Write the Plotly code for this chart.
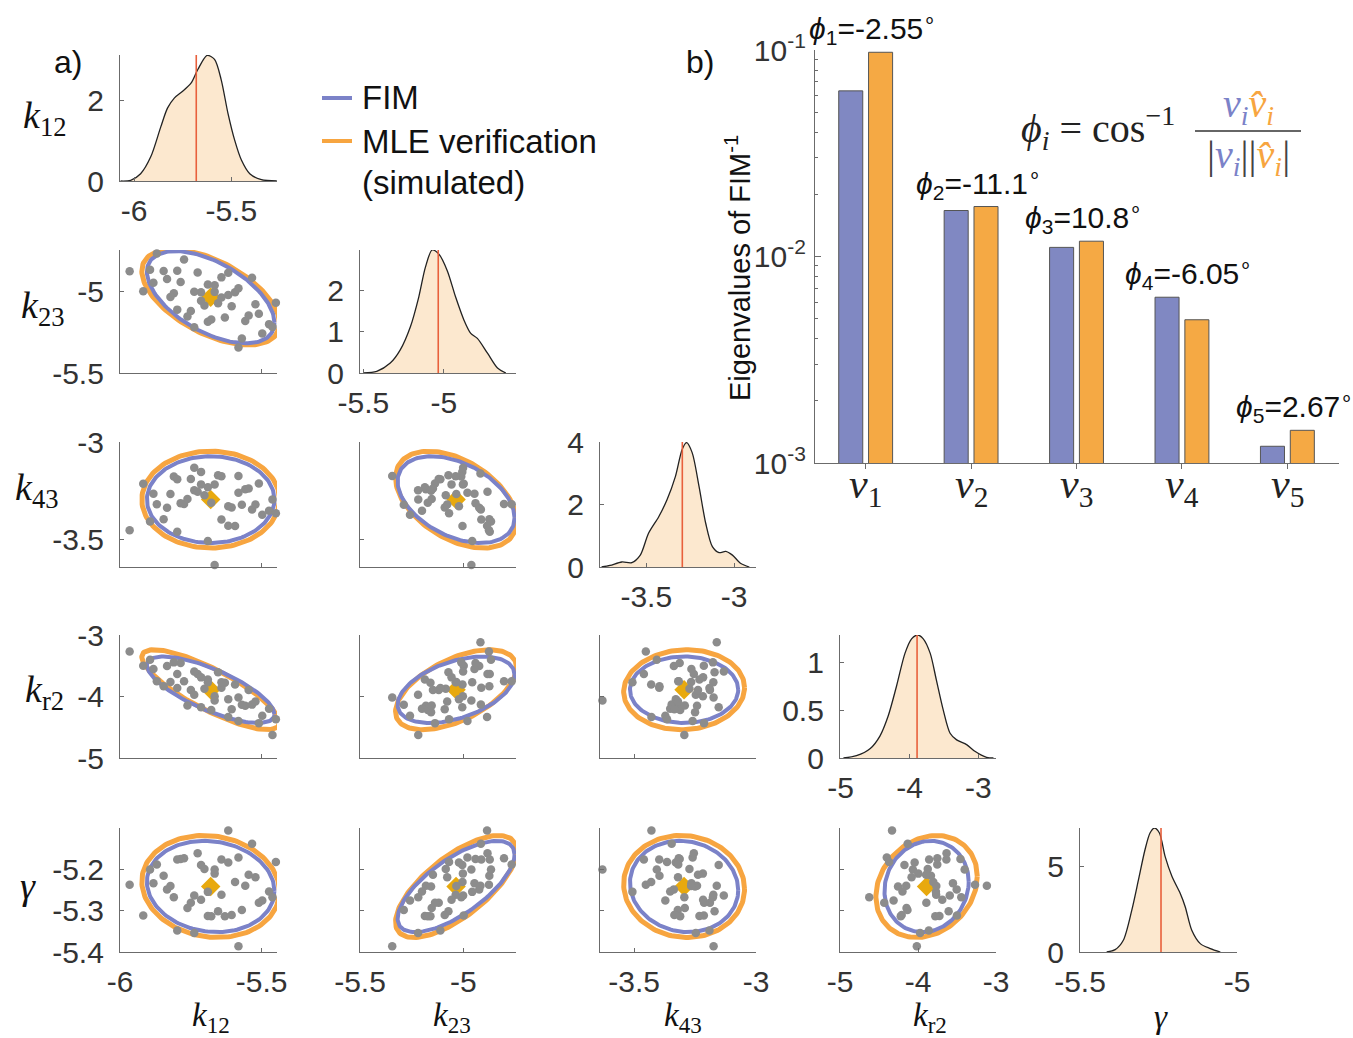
import numpy as np
import plotly.graph_objects as go

W, H = 1353, 1038

# ---------------- data ----------------
param_labels = ["<i>k</i><sub>12</sub>", "<i>k</i><sub>23</sub>", "<i>k</i><sub>43</sub>",
                "<i>k</i><sub>r2</sub>", "<i>γ</i>"]
true_vals = [-5.68, -5.035, -3.295, -3.89, -5.242]

samp_k12 = [-5.666, -5.834, -5.558, -5.75, -5.594, -5.882, -5.642, -5.51, -5.798, -5.69, -5.714, -5.474,
            -5.918, -5.618, -5.774, -5.57, -5.654, -5.846, -5.702, -5.426, -5.738, -5.582, -5.966, -5.63,
            -5.786, -5.534, -5.678, -5.81, -5.606, -5.726, -5.498, -5.87, -5.69, -5.546, -5.762, -5.642,
            -5.822, -5.45, -5.714, -5.582, -5.894, -5.618, -5.738, -5.522, -5.798, -5.666, -6.002, -5.462]
samp_k23 = [-5.002, -4.923, -5.181, -5.119, -5.004, -4.946, -4.913, -5.137, -4.872, -5.186, -5.005, -5.2,
            -4.998, -5.021, -4.803, -5.288, -5.072, -4.874, -5.085, -5.156, -5.219, -4.98, -4.876, -5.159,
            -4.941, -4.915, -5.172, -5.01, -5.09, -4.883, -5.258, -4.766, -4.957, -5.147, -5.153, -5.037,
            -5.034, -5.069, -5.057, -5.344, -4.866, -4.885, -5.001, -5.078, -5.111, -4.961, -4.917, -5.218]
samp_k43 = [-3.218, -3.337, -3.242, -3.189, -3.43, -3.265, -3.397, -3.213, -3.46, -3.232, -3.153, -3.352,
            -3.214, -3.329, -3.317, -3.321, -3.17, -3.396, -3.273, -3.25, -3.247, -3.26, -3.452, -2.98,
            -3.313, -3.346, -3.311, -3.177, -3.335, -3.255, -3.372, -3.319, -3.507, -3.238, -3.292, -3.175,
            -3.266, -3.365, -3.217, -3.174, -3.407, -3.429, -3.132, -3.32, -3.191, -3.63, -3.161, -3.294]
samp_kr2 = [-3.996, -3.504, -4.151, -3.893, -3.804, -3.552, -3.857, -4.433, -3.636, -3.725, -4.174, -4.199,
            -3.501, -4.043, -3.752, -4.135, -3.607, -3.834, -3.875, -4.256, -3.973, -4.4, -3.269, -3.778,
            -3.456, -4.132, -4.221, -3.445, -4.209, -3.634, -4.313, -3.753, -3.77, -3.896, -4.147, -3.767,
            -3.765, -4.37, -3.689, -4.015, -3.402, -4.333, -3.593, -4.082, -3.861, -4.066, -3.117, -4.625]
samp_gamma = [-5.211, -5.249, -5.24, -5.281, -5.231, -5.234, -5.177, -5.281, -5.177, -5.313, -5.19, -5.254,
              -5.312, -5.184, -5.174, -5.299, -5.302, -5.216, -5.2, -5.242, -5.354, -5.172, -5.238, -5.314,
              -5.176, -5.139, -5.314, -5.268, -5.311, -5.162, -5.276, -5.189, -5.255, -5.214, -5.294, -5.262,
              -5.241, -5.183, -5.274, -5.386, -5.201, -5.107, -5.264, -5.22, -5.348, -5.201, -5.24, -5.268]
samples = [samp_k12, samp_k23, samp_k43, samp_kr2, samp_gamma]

# confidence-ellipse half extents and correlations (FIM vs MLE)
fim_extent = [0.225, 0.283, 0.222, 0.54, 0.110]
mle_extent = [0.243, 0.293, 0.248, 0.65, 0.123]
pairs = [(1, 0), (2, 0), (2, 1), (3, 0), (3, 1), (3, 2), (4, 0), (4, 1), (4, 2), (4, 3)]
fim_rho = [-0.55, 0.0, -0.42, -0.74, 0.45, 0.0, -0.10, 0.70, -0.08, 0.10]
mle_rho = [-0.55, 0.0, -0.45, -0.82, 0.55, 0.05, -0.10, 0.70, -0.05, 0.20]

# marginal densities
kde_k12_x = [-6.069, -6.017, -5.966, -5.914, -5.862, -5.828, -5.793, -5.75, -5.707, -5.672, -5.624, -5.586,
             -5.552, -5.517, -5.483, -5.448, -5.405, -5.345, -5.266]
kde_k12_y = [0, 0.017, 0.18, 0.6, 1.35, 1.81, 2.06, 2.23, 2.43, 2.77, 3.12, 3.02, 2.52, 1.68, 1.02, 0.52,
             0.18, 0.033, 0]
kde_k23_x = [-5.5, -5.417, -5.333, -5.271, -5.208, -5.156, -5.115, -5.073, -5.031, -4.979, -4.927, -4.875,
             -4.833, -4.792, -4.729, -4.667, -4.615]
kde_k23_y = [0, 0.04, 0.24, 0.56, 1.12, 1.84, 2.56, 2.98, 2.88, 2.48, 1.84, 1.28, 0.96, 0.84, 0.48, 0.12, 0]
kde_k43_x = [-3.754, -3.706, -3.639, -3.582, -3.534, -3.487, -3.429, -3.382, -3.334, -3.296, -3.271, -3.239,
             -3.2, -3.162, -3.124, -3.086, -3.048, -3.01, -2.962, -2.914]
kde_k43_y = [0, 0.05, 0.16, 0.14, 0.38, 1.08, 1.61, 2.15, 2.9, 3.76, 3.98, 3.66, 2.58, 1.4, 0.65, 0.46, 0.5,
             0.38, 0.11, 0]
kde_kr2_x = [-4.96, -4.77, -4.57, -4.43, -4.31, -4.19, -4.065, -3.97, -3.88, -3.80, -3.70, -3.61, -3.51,
             -3.41, -3.315, -3.17, -3.05, -2.88, -2.78]
kde_kr2_y = [0, 0.024, 0.1, 0.23, 0.44, 0.75, 1.10, 1.25, 1.29, 1.25, 1.10, 0.82, 0.505, 0.26, 0.19, 0.14,
             0.07, 0.007, 0]
kde_gamma_x = [-5.415, -5.388, -5.362, -5.335, -5.314, -5.293, -5.277, -5.263, -5.247, -5.229, -5.207,
               -5.181, -5.165, -5.144, -5.117, -5.085, -5.053]
kde_gamma_y = [0, 0.14, 0.69, 2.45, 4.2, 5.98, 6.96, 7.25, 6.96, 5.59, 4.41, 3.43, 2.65, 1.27, 0.49, 0.2, 0]
kde_x = [kde_k12_x, kde_k23_x, kde_k43_x, kde_kr2_x, kde_gamma_x]
kde_y = [kde_k12_y, kde_k23_y, kde_k43_y, kde_kr2_y, kde_gamma_y]

# axes ranges / ticks
scat_range = [[-6.0, -5.446], [-5.5, -4.745], [-3.64, -3.0], [-5.0, -3.0], [-5.4, -5.101]]
scat_ticks = [[-6, -5.5], [-5.5, -5], [-3.5, -3], [-5, -4, -3], [-5.4, -5.3, -5.2]]
diag_xrange = [[-6.072, -5.265], [-5.521, -4.552], [-3.763, -2.876], [-5.01, -2.743], [-5.5, -5.0]]
diag_xticks = [[-6, -5.5], [-5.5, -5], [-3.5, -3], [-5, -4, -3], [-5.5, -5]]
diag_ymax = [3.13, 2.98, 4.0, 1.29, 7.25]
diag_yticks = [[0, 2], [0, 1, 2], [0, 2, 4], [0, 0.5, 1], [0, 5]]

# panel b
vec_labels = ["<i>v</i><sub>1</sub>", "<i>v</i><sub>2</sub>", "<i>v</i><sub>3</sub>",
              "<i>v</i><sub>4</sub>", "<i>v</i><sub>5</sub>"]
vec_pos = [1, 2, 3, 4, 5]
eig_fim = [0.0634, 0.0167, 0.01107, 0.00635, 0.001205]
eig_mle = [0.0975, 0.01746, 0.01186, 0.00494, 0.00144]
phi_vals = ["-2.55", "-11.1", "10.8", "-6.05", "2.67"]

# ---------------- style ----------------
SANS = "Arial, 'Liberation Sans', sans-serif"
SERIF = "'Liberation Serif', 'Times New Roman', serif"
MATH = "'DejaVu Serif', serif"
AXC = '#6b6b6b'
TXT = '#333333'
BLUE = '#7B82C8'
ORANGE = '#F7A540'
BAR_BLUE = '#8088C2'
BAR_ORANGE = '#F5A944'
GRAY = '#8C8C8C'
DIAM = '#E8A90E'
FILL = '#FCE8CF'
RED = '#E8603C'

col_px = [(120, 277), (360, 516), (600, 756), (840, 996), (1080, 1237)]
row_px = [(55, 181), (250, 373), (442, 567), (635, 758), (828, 952)]

fig = go.Figure()
layout = dict(width=W, height=H, margin=dict(l=0, r=0, t=0, b=0, pad=0, autoexpand=False),
              paper_bgcolor='white', plot_bgcolor='white', showlegend=False)


def fmt(v):
    return f"{v:g}"


counter = [0]


def new_axes(xpx, ypx, xrange, xticks, xlab, yrange, yticks, ylab):
    counter[0] += 1
    k = counter[0]
    xname = 'xaxis' if k == 1 else f'xaxis{k}'
    yname = 'yaxis' if k == 1 else f'yaxis{k}'
    xref = 'x' if k == 1 else f'x{k}'
    yref = 'y' if k == 1 else f'y{k}'
    base = dict(showline=True, linecolor=AXC, linewidth=1.2, ticks='inside', ticklen=4, tickwidth=1,
                tickcolor=AXC, showgrid=False, zeroline=False, automargin=False,
                tickfont=dict(family=SANS, size=30, color=TXT))
    layout[xname] = dict(base, domain=[xpx[0] / W, xpx[1] / W], range=xrange, anchor=yref,
                         tickmode='array', tickvals=xticks, ticktext=[fmt(v) for v in xticks],
                         showticklabels=xlab, ticklabelstandoff=3)
    layout[yname] = dict(base, domain=[1 - ypx[1] / H, 1 - ypx[0] / H], range=yrange, anchor=xref,
                         tickmode='array', tickvals=yticks, ticktext=[fmt(v) for v in yticks],
                         showticklabels=ylab, ticklabelstandoff=9)
    return xref, yref, xname, yname


t = np.linspace(0, 2 * np.pi, 160)


def ellipse(cx, cy, ex, ey, rho):
    xs = cx + ex * np.cos(t)
    ys = cy + ey * (rho * np.cos(t) + np.sqrt(1 - rho ** 2) * np.sin(t))
    return xs, ys


# diagonal panels
for i in range(5):
    xr, yr, _, _ = new_axes(col_px[i], row_px[i], diag_xrange[i], diag_xticks[i], True,
                            [0, diag_ymax[i]], diag_yticks[i], True)
    fig.add_trace(go.Scatter(x=kde_x[i], y=kde_y[i], mode='lines', line=dict(color='#222222', width=1.3,
                             shape='spline', smoothing=0.8), fill='tozeroy', fillcolor=FILL,
                             xaxis=xr, yaxis=yr, hoverinfo='skip'))
    fig.add_trace(go.Scatter(x=[true_vals[i], true_vals[i]], y=[0, diag_ymax[i]], mode='lines',
                             line=dict(color=RED, width=1.6), xaxis=xr, yaxis=yr, hoverinfo='skip'))

# scatter panels
for p, (i, j) in enumerate(pairs):
    xr, yr, _, _ = new_axes(col_px[j], row_px[i], scat_range[j], scat_ticks[j], i == 4,
                            scat_range[i], scat_ticks[i], j == 0)
    ex, ey = ellipse(true_vals[j], true_vals[i], mle_extent[j], mle_extent[i], mle_rho[p])
    fig.add_trace(go.Scatter(x=ex, y=ey, mode='lines', line=dict(color=ORANGE, width=5),
                             xaxis=xr, yaxis=yr, hoverinfo='skip'))
    ex, ey = ellipse(true_vals[j], true_vals[i], fim_extent[j], fim_extent[i], fim_rho[p])
    fig.add_trace(go.Scatter(x=ex, y=ey, mode='lines', line=dict(color=BLUE, width=4),
                             xaxis=xr, yaxis=yr, hoverinfo='skip'))
    fig.add_trace(go.Scatter(x=[true_vals[j]], y=[true_vals[i]], mode='markers',
                             marker=dict(symbol='diamond', size=15, color=DIAM), xaxis=xr, yaxis=yr,
                             cliponaxis=False))
    fig.add_trace(go.Scatter(x=samples[j], y=samples[i], mode='markers',
                             marker=dict(size=8.5, color=GRAY), xaxis=xr, yaxis=yr, cliponaxis=False))

# panel b
xr, yr, xn, yn = new_axes((815, 1339), (50, 463), [0.52, 5.49], vec_pos, False, [-3, -1], [], True)
layout[xn].update(ticks='outside', ticklen=5)
minor_vals = [m * 10.0 ** e for e in (-3, -2) for m in range(2, 10)]
layout[yn].update(type='log', range=[-3, -1], tickvals=[0.001, 0.01, 0.1],
                  ticktext=["10<sup>-3</sup>", "10<sup>-2</sup>", "10<sup>-1</sup>"], ticklen=6,
                  ticklabelstandoff=2, tickfont=dict(family=SANS, size=30, color=TXT),
                  minor=dict(ticks='inside', ticklen=3, tickcolor=AXC, tickmode='array', tickvals=minor_vals))
fig.add_trace(go.Bar(x=vec_pos, y=eig_fim, width=0.228, offset=-0.255, marker=dict(color=BAR_BLUE,
                     line=dict(color='#555555', width=1)), xaxis=xr, yaxis=yr))
fig.add_trace(go.Bar(x=vec_pos, y=eig_mle, width=0.228, offset=0.028, marker=dict(color=BAR_ORANGE,
                     line=dict(color='#555555', width=1)), xaxis=xr, yaxis=yr))
layout['barmode'] = 'overlay'

ann = []
for k in range(5):
    top = max(eig_fim[k], eig_mle[k])
    ann.append(dict(xref=xr, yref=yr, x=vec_pos[k], y=np.log10(top), xshift=7, yshift=1,
                    xanchor='center', yanchor='bottom', showarrow=False,
                    text=(f"<span style='font-family:{MATH}'><i>ϕ</i><sub>{k + 1}</sub></span>"
                          f"={phi_vals[k]}<sup>∘</sup>"),
                    font=dict(family=SANS, size=30, color='#111111')))
    # category labels of panel b
    ann.append(dict(xref=xr, yref='paper', x=vec_pos[k], y=1 - 487 / H, xanchor='center',
                    yanchor='middle', showarrow=False, text=vec_labels[k],
                    font=dict(family=SERIF, size=42, color='#222222')))

# axis labels
left_lab_pos = [(44, 118), (42, 308), (36, 490), (44, 692), (28, 886)]
bottom_lab_x = [211, 452, 683, 930, 1161]
for i in range(5):
    ann.append(dict(xref='paper', yref='paper', x=left_lab_pos[i][0] / W, y=1 - left_lab_pos[i][1] / H,
                    xanchor='center', yanchor='middle', showarrow=False, text=param_labels[i],
                    font=dict(family=SERIF, size=38, color='#111111')))
    ann.append(dict(xref='paper', yref='paper', x=bottom_lab_x[i] / W, y=1 - 1017 / H,
                    xanchor='center', yanchor='middle', showarrow=False, text=param_labels[i],
                    font=dict(family=SERIF, size=33, color='#111111')))

# panel letters
ann.append(dict(xref='paper', yref='paper', x=68 / W, y=1 - 62 / H, xanchor='center', yanchor='middle',
                showarrow=False, text="a)", font=dict(family=SANS, size=32, color='#111111')))
ann.append(dict(xref='paper', yref='paper', x=700 / W, y=1 - 62 / H, xanchor='center', yanchor='middle',
                showarrow=False, text="b)", font=dict(family=SANS, size=32, color='#111111')))

# legend
legend_items = [("FIM", BLUE, 98), ("MLE verification", ORANGE, 141)]
shapes = []
for txt, col, yy in legend_items:
    shapes.append(dict(type='line', xref='paper', yref='paper', x0=322 / W, x1=352 / W,
                       y0=1 - yy / H, y1=1 - yy / H, line=dict(color=col, width=4)))
    ann.append(dict(xref='paper', yref='paper', x=360 / W, y=1 - yy / H, xanchor='left',
                    yanchor='middle', showarrow=False, text=txt,
                    font=dict(family=SANS, size=33, color='#111111')))
ann.append(dict(xref='paper', yref='paper', x=360 / W, y=1 - 183 / H, xanchor='left', yanchor='middle',
                showarrow=False, text="(simulated)", font=dict(family=SANS, size=33, color='#111111')))

# y title of panel b
ann.append(dict(xref='paper', yref='paper', x=738 / W, y=1 - 268 / H, xanchor='center', yanchor='middle',
                textangle=-90, showarrow=False, text="Eigenvalues of FIM<sup>-1</sup>",
                font=dict(family=SANS, size=29, color='#111111')))

# formula
ann.append(dict(xref='paper', yref='paper', x=1098 / W, y=1 - 128 / H, xanchor='center', yanchor='middle',
                showarrow=False, text="<i>ϕ<sub>i</sub></i> = cos<sup>−1</sup>",
                font=dict(family=SERIF, size=40, color='#222222')))
ann.append(dict(xref='paper', yref='paper', x=1248 / W, y=1 - 106 / H, xanchor='center', yanchor='middle',
                showarrow=False,
                text=(f"<span style='color:{BLUE}'><i>v<sub>i</sub></i></span>"
                      f"<span style='color:{ORANGE}'><i>v̂<sub>i</sub></i></span>"),
                font=dict(family=SERIF, size=40, color='#222222')))
ann.append(dict(xref='paper', yref='paper', x=1248 / W, y=1 - 157 / H, xanchor='center', yanchor='middle',
                showarrow=False,
                text=(f"|<span style='color:{BLUE}'><i>v<sub>i</sub></i></span>||"
                      f"<span style='color:{ORANGE}'><i>v̂<sub>i</sub></i></span>|"),
                font=dict(family=SERIF, size=40, color='#444444')))
shapes.append(dict(type='line', xref='paper', yref='paper', x0=1195 / W, x1=1301 / W,
                   y0=1 - 131 / H, y1=1 - 131 / H, line=dict(color='#333333', width=1.5)))

layout['annotations'] = ann
layout['shapes'] = shapes
fig.update_layout(**layout)
fig.write_html("out.html")
